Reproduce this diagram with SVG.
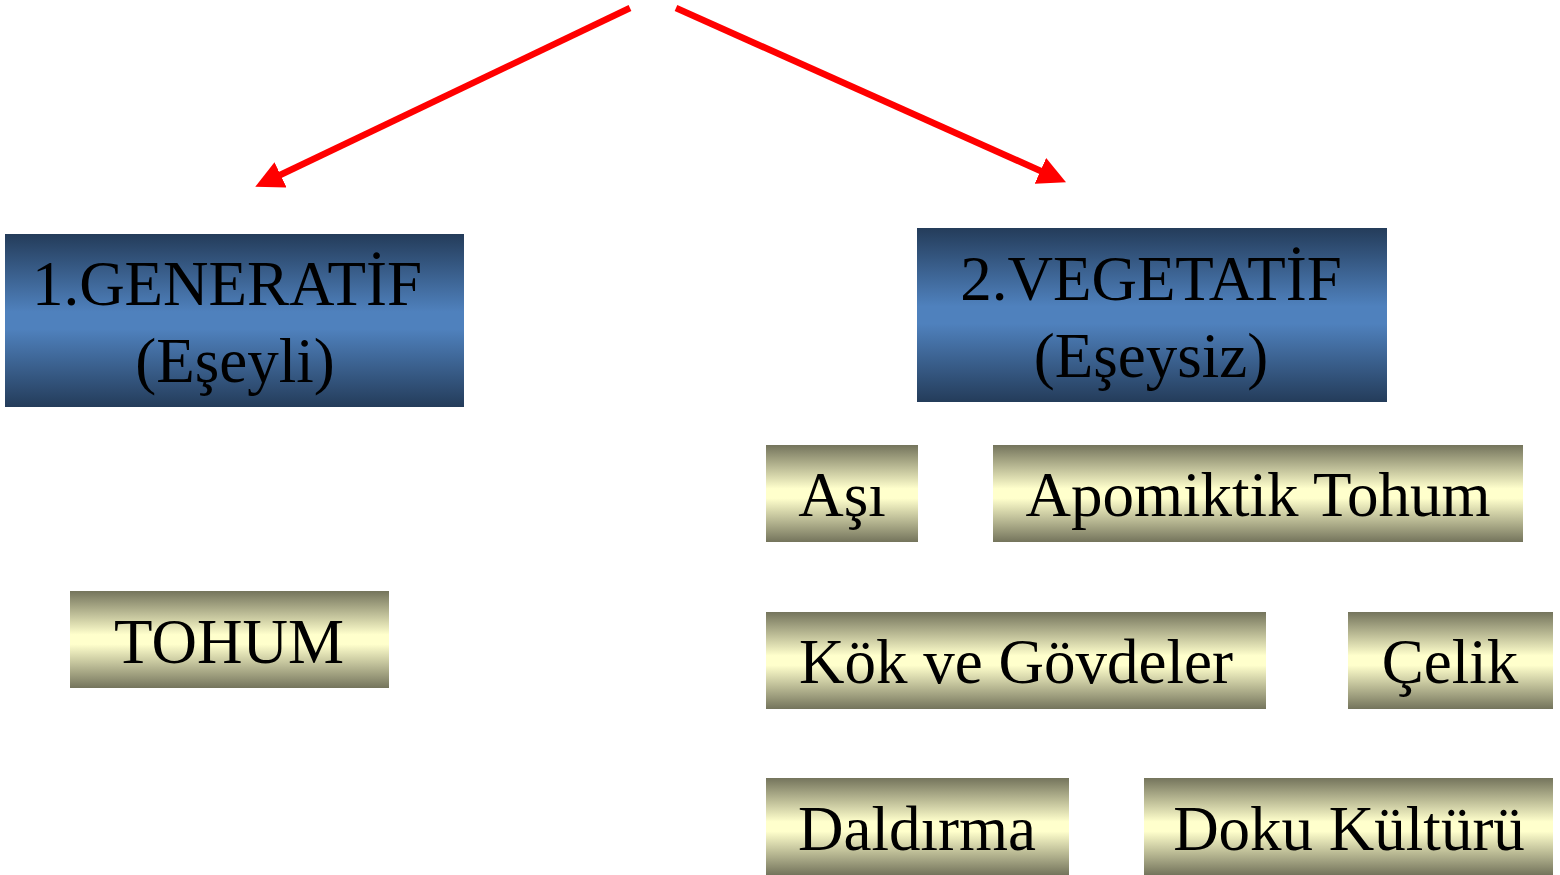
<svg xmlns="http://www.w3.org/2000/svg" width="1560" height="875" viewBox="0 0 1560 875">
<defs>
<linearGradient id="gBlue" x1="0" y1="0" x2="0" y2="1">
<stop offset="0" stop-color="#243c5a"/>
<stop offset="0.45" stop-color="#4f81bd"/>
<stop offset="0.55" stop-color="#4f81bd"/>
<stop offset="1" stop-color="#243c5a"/>
</linearGradient>
<linearGradient id="gYellow" x1="0" y1="0" x2="0" y2="1">
<stop offset="0" stop-color="#74745c"/>
<stop offset="0.45" stop-color="#ffffcc"/>
<stop offset="0.55" stop-color="#ffffcc"/>
<stop offset="1" stop-color="#74745c"/>
</linearGradient>
<marker id="arr" viewBox="0 0 10 10" markerWidth="28" markerHeight="28" markerUnits="userSpaceOnUse" refX="1" refY="5" orient="auto">
<path d="M0,0 L10,5 L0,10 z" fill="#ff0000"/>
</marker>
</defs>
<style>
.blue{fill:url(#gBlue);}
.yel{fill:url(#gYellow);}
text{font-family:"Liberation Serif","Times New Roman",serif;font-size:63px;fill:#000;text-anchor:middle;}
.conn{stroke:#ff0000;stroke-width:6.5;fill:none;marker-end:url(#arr);}
</style>
<rect width="1560" height="875" fill="#ffffff"/>
<g id="connectors">
<line class="conn" x1="630" y1="8" x2="278" y2="176"/>
<line class="conn" x1="676" y1="8" x2="1043" y2="172"/>
</g>
<g id="generatif">
<rect class="blue" x="5" y="234" width="459" height="173"/>
<text x="227" y="305">1.GENERATİF</text>
<text x="235" y="382">(Eşeyli)</text>
</g>
<g id="vegetatif">
<rect class="blue" x="917" y="228" width="470" height="174"/>
<text x="1151" y="300">2.VEGETATİF</text>
<text x="1151" y="377">(Eşeysiz)</text>
</g>
<g id="asi">
<rect class="yel" x="766" y="445" width="152" height="97"/>
<text x="842" y="516">Aşı</text>
</g>
<g id="apomiktik">
<rect class="yel" x="993" y="445" width="530" height="97"/>
<text x="1258" y="516">Apomiktik Tohum</text>
</g>
<g id="tohum">
<rect class="yel" x="70" y="591" width="319" height="97"/>
<text x="229" y="663">TOHUM</text>
</g>
<g id="kok">
<rect class="yel" x="766" y="612" width="500" height="97"/>
<text x="1016" y="683">Kök ve Gövdeler</text>
</g>
<g id="celik">
<rect class="yel" x="1348" y="612" width="205" height="97"/>
<text x="1450" y="683">Çelik</text>
</g>
<g id="daldirma">
<rect class="yel" x="766" y="778" width="303" height="97"/>
<text x="917" y="850">Daldırma</text>
</g>
<g id="doku">
<rect class="yel" x="1144" y="778" width="409" height="97"/>
<text x="1349" y="850">Doku Kültürü</text>
</g>
</svg>
